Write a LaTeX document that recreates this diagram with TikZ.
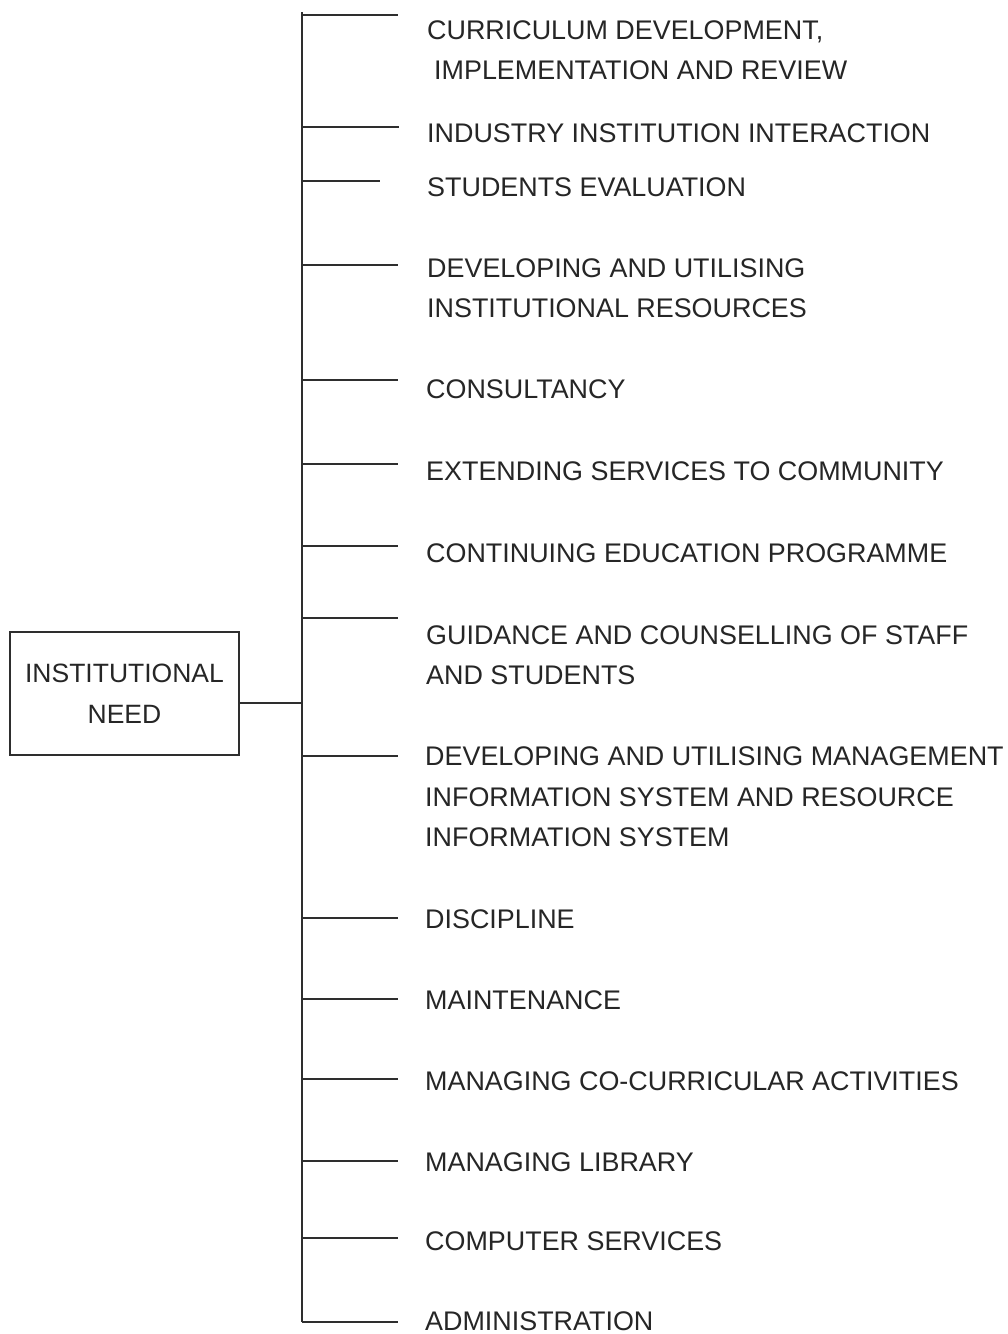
\documentclass[tikz,border=0pt]{standalone}
\usepackage{fontspec}
\setmainfont{Liberation Sans}
\begin{document}
\begin{tikzpicture}[x=1pt,y=-1pt,
  ink/.style={draw=black!82,line width=1.4pt},
  item/.style={anchor=west,inner sep=0pt,align=left,text=black!85,
    font=\fontsize{26.9}{40.5}\selectfont},
  rootbox/.style={ink,minimum width=229pt,minimum height=123pt,inner sep=0pt,
    align=center,text=black!85,font=\fontsize{26.5}{40.5}\selectfont}]
\useasboundingbox (0,0) rectangle (1008,1334);
\fill[white] (0,0) rectangle (1008,1334);

% root box and its link to the trunk
\node[rootbox] (root) at (124.5,693.5) {INSTITUTIONAL\\NEED};
\coordinate (j) at (302,703);
\draw[ink] (root.east |- j) -- (j);

% vertical trunk
\coordinate (top) at (302,12);
\coordinate (bot) at (302,1322);
\draw[ink] (top) -- (bot);

% branch stubs: y position, end x
\foreach \i/\y/\e in {1/15/398, 2/127/399, 3/181/380, 4/265/398, 5/380/398,
  6/464/398, 7/546/398, 8/618/398, 9/756/398, 10/918/398, 11/999/398,
  12/1079/398, 13/1161/398, 14/1238/398, 15/1322/398}{
  \coordinate (t\i) at (302,\y);
  \coordinate (b\i) at (\e,\y);
  \draw[ink] (t\i) -- (b\i);
}

% labels
\node[item] (l1)  at (427,50)   {CURRICULUM DEVELOPMENT,\\\hspace*{7pt}IMPLEMENTATION AND REVIEW};
\node[item] (l2)  at (427,133)  {INDUSTRY INSTITUTION INTERACTION};
\node[item] (l3)  at (427,187)  {STUDENTS EVALUATION};
\node[item] (l4)  at (427,288)  {DEVELOPING AND UTILISING\\INSTITUTIONAL RESOURCES};
\node[item] (l5)  at (426,389)  {CONSULTANCY};
\node[item] (l6)  at (426,471)  {EXTENDING SERVICES TO COMMUNITY};
\node[item] (l7)  at (426,553)  {CONTINUING EDUCATION PROGRAMME};
\node[item] (l8)  at (426,655)  {GUIDANCE AND COUNSELLING OF STAFF\\AND STUDENTS};
\node[item] (l9)  at (425,797)  {DEVELOPING AND UTILISING MANAGEMENT\\INFORMATION SYSTEM AND RESOURCE\\INFORMATION SYSTEM};
\node[item] (l10) at (425,919)  {DISCIPLINE};
\node[item] (l11) at (425,1000) {MAINTENANCE};
\node[item] (l12) at (425,1081) {MANAGING CO-CURRICULAR ACTIVITIES};
\node[item] (l13) at (425,1162) {MANAGING LIBRARY};
\node[item] (l14) at (425,1241) {COMPUTER SERVICES};
\node[item] (l15) at (425,1321) {ADMINISTRATION};
\end{tikzpicture}
\end{document}
